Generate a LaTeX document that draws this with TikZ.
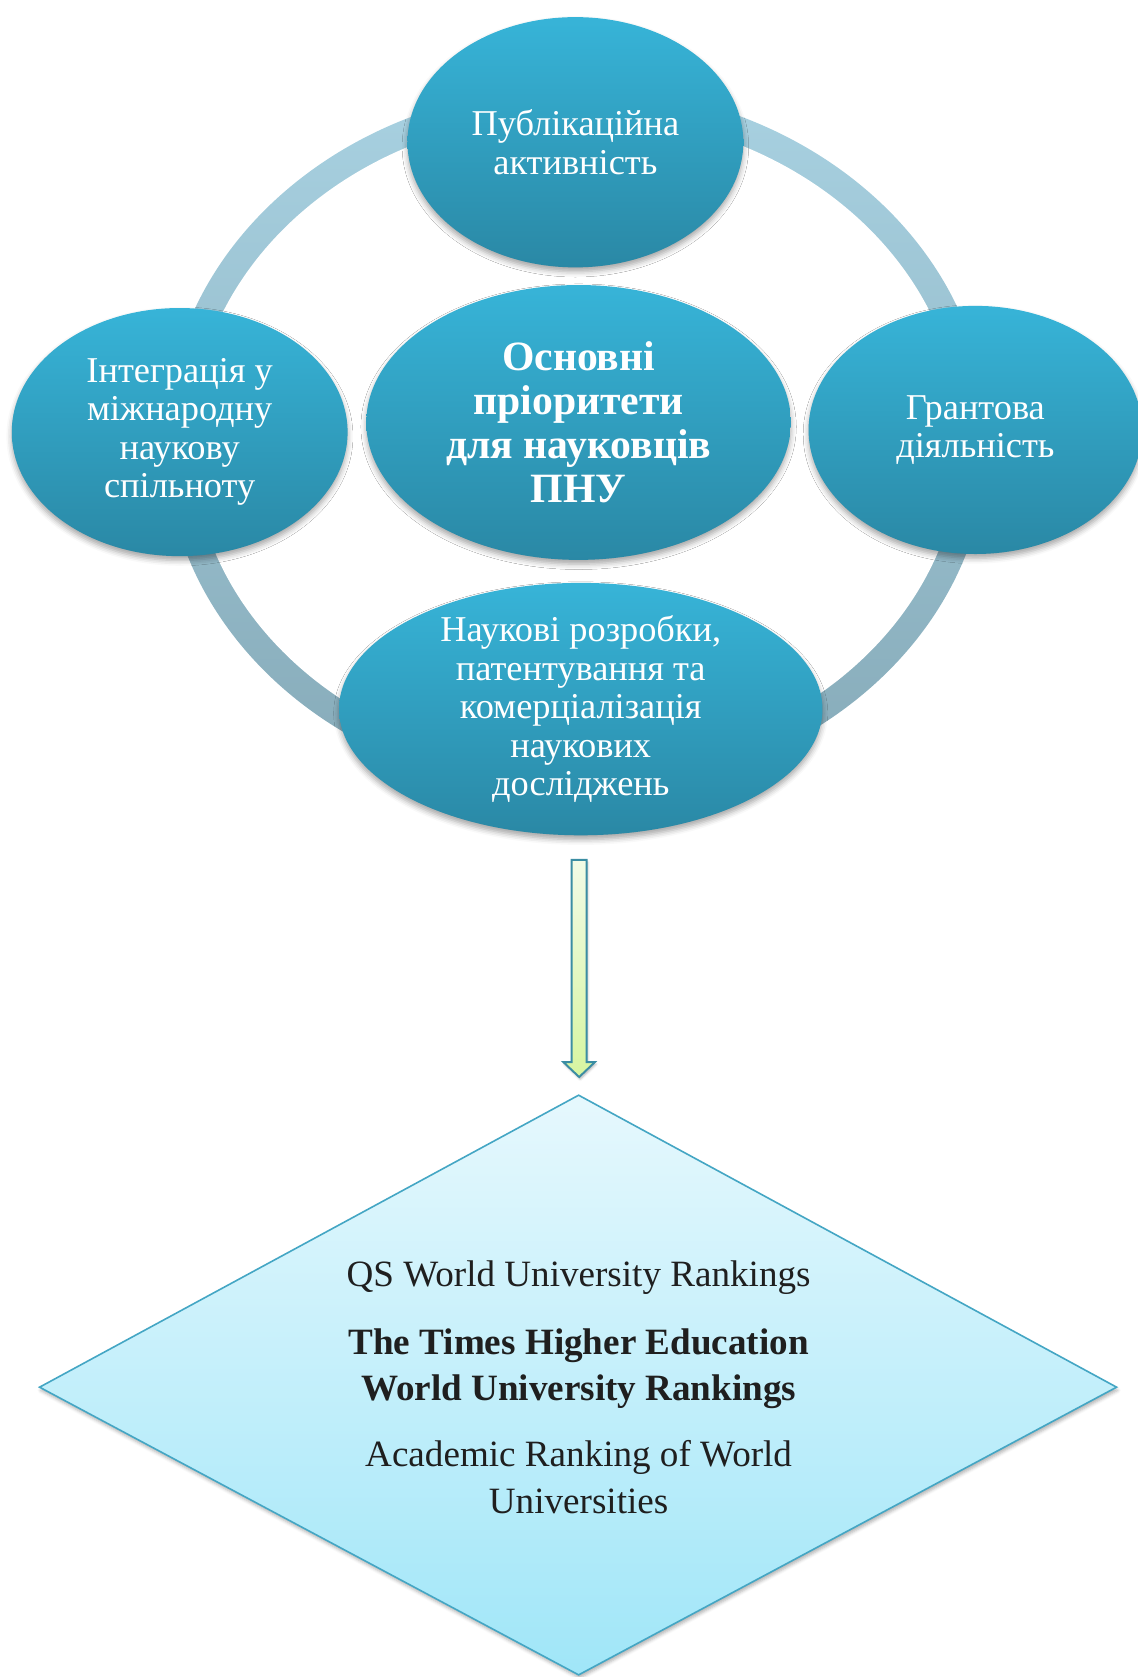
\documentclass[tikz,border=0pt]{standalone}
\usepackage{fontspec}
\setmainfont{Liberation Serif}
\usetikzlibrary{shapes.geometric,shadows.blur}
\definecolor{bubtop}{HTML}{37B4D8}
\definecolor{bubbot}{HTML}{2A88A5}
\definecolor{ringtop}{HTML}{A8D1E1}
\definecolor{ringbot}{HTML}{86AAB8}
\definecolor{diatop}{HTML}{E6F8FD}
\definecolor{diabot}{HTML}{A0E6F8}
\definecolor{diaedge}{HTML}{44A6C4}
\definecolor{arrtop}{HTML}{F2FBE6}
\definecolor{arrbot}{HTML}{D6F5A0}
\definecolor{arredge}{HTML}{3B8DA3}
\definecolor{ink}{HTML}{1F1F1F}
\begin{document}
\begin{tikzpicture}[x=1pt,y=-1pt,
  bubble/.style={ellipse, inner sep=0pt, draw=none, top color=bubtop, bottom color=bubbot,
    blur shadow={shadow xshift=0pt, shadow yshift=-4pt, shadow blur radius=5pt, shadow opacity=35}},
  btext/.style={text=white, align=center, inner sep=0pt, font=\fontsize{34}{36}\selectfont},
  ctext/.style={text=white, align=center, inner sep=0pt, font=\bfseries\fontsize{39}{41}\selectfont},
  dtext/.style={text=ink, align=center, inner sep=0pt, font=\fontsize{34.7}{43.5}\selectfont},
  ringshade/.style={top color=ringtop, bottom color=ringbot},
  blockarrow/.style={top color=arrtop, bottom color=arrbot, draw=arredge, line width=1.8pt, line join=miter,
    blur shadow={shadow xshift=1pt, shadow yshift=-2pt, shadow blur radius=2pt, shadow opacity=30}},
  rankbox/.style={top color=diatop, bottom color=diabot, draw=diaedge, line width=1.5pt,
    blur shadow={shadow xshift=1pt, shadow yshift=-3pt, shadow blur radius=3pt, shadow opacity=30}}
]
\useasboundingbox (0,0) rectangle (1064,1568);

% ring
\path[ringshade] (539,412) ellipse [x radius=384.5, y radius=330.5];
\fill[white] (539,412) ellipse [x radius=359.5, y radius=305.5];

% bubbles
\node[bubble, minimum width=314pt, minimum height=234pt] (top) at (538,133) {};
\node[bubble, minimum width=314pt, minimum height=232pt] (left) at (168,404) {};
\node[bubble, minimum width=312pt, minimum height=232pt] (right) at (912,402) {};
\node[bubble, minimum width=397pt, minimum height=257pt] (center) at (541,395) {};
\node[bubble, minimum width=452pt, minimum height=236pt] (bottom) at (543,663) {};

\node[btext] (topt) at (top.center) {Публікаційна\\активність};
\node[btext] (leftt) at (left.center) {Інтеграція у\\міжнародну\\наукову\\спільноту};
\node[btext] (rightt) at (right.center) {Грантова\\діяльність};
\node[ctext] (centert) at (center.center) {Основні\\пріоритети\\для науковців\\ПНУ};
\node[btext] (bottomt) at (bottom.center) {Наукові розробки,\\патентування та\\комерціалізація\\наукових\\досліджень};

% block arrow
\coordinate (aS) at (541.5,804);
\path[blockarrow] ([xshift=-7pt]aS) -- ([xshift=7pt]aS) -- (548.5,993) -- (556.3,993) -- (541.5,1007)
  -- (526.7,993) -- (534.5,993) -- cycle;

% diamond
\coordinate (dT) at (541,1024);
\coordinate (dR) at (1044,1297);
\coordinate (dB) at (541,1566);
\coordinate (dL) at (37,1297);
\path[rankbox] (dT) -- (dR) -- (dB) -- (dL) -- cycle;

\node[dtext] (ranks) at (541,1297) {QS World University Rankings\\[20pt]
  \textbf{The Times Higher Education}\\\textbf{World University Rankings}\\[18pt]
  Academic Ranking of World\\Universities};
\end{tikzpicture}
\end{document}
